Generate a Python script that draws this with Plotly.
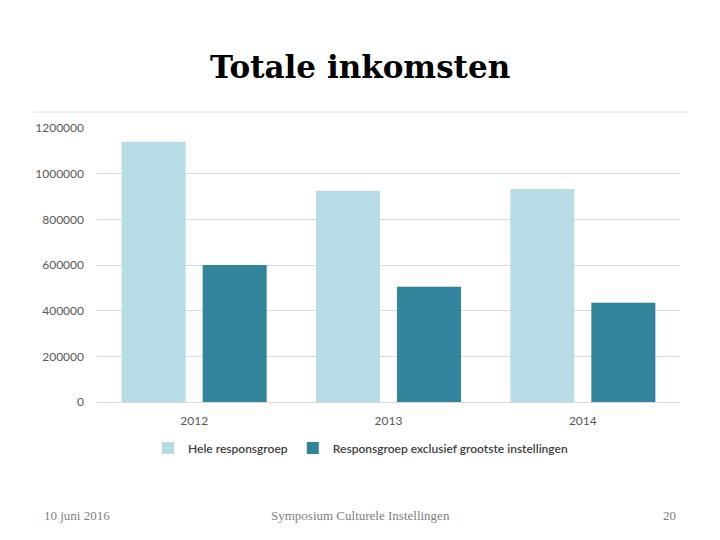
import plotly.graph_objects as go

years = ["2012", "2013", "2014"]
hele = [1140000, 925000, 933000]
excl = [600000, 505000, 435000]
series_names = ["Hele responsgroep", "Responsgroep exclusief grootste instellingen"]
colors = ["#b7dce6", "#31849b"]
y_ticks = [0, 200000, 400000, 600000, 800000, 1000000, 1200000]

fig = go.Figure()
fig.add_trace(go.Bar(x=years, y=hele, name=series_names[0], marker_color=colors[0], marker_line_width=0))
fig.add_trace(go.Bar(x=years, y=excl, name=series_names[1], marker_color=colors[1], marker_line_width=0))

fig.update_layout(
    width=720, height=540,
    margin=dict(l=89, r=48, t=120, b=146),
    paper_bgcolor="white", plot_bgcolor="white",
    barmode="group", bargap=0.166, bargroupgap=0.21,
    showlegend=True,
    legend=dict(orientation="h", x=0.452, xanchor="center", y=-0.168, yanchor="middle",
                font=dict(family="Lato", size=12, color="#404040", weight=600),
                traceorder="normal"),
    xaxis=dict(showgrid=False, showline=True, linecolor="#d9d9d9", linewidth=1,
               ticks="", ticklabelstandoff=8,
               tickfont=dict(family="Lato", size=12, color="#595959")),
    yaxis=dict(range=[0, 1200000], tickvals=y_ticks, ticktext=[str(v) for v in y_ticks],
               showgrid=True, gridcolor="#d9d9d9", gridwidth=1, zeroline=False,
               showline=False, ticks="", ticklabelstandoff=12,
               tickfont=dict(family="Lato", size=12, color="#595959")),
)

fig.add_annotation(text="<b>Totale inkomsten</b>", xref="paper", yref="paper",
                   x=(360 - 97) / 583, y=(402 - 67) / 274, xanchor="center", yanchor="middle",
                   showarrow=False, font=dict(family="DejaVu Serif", size=31, color="black"))

fig.add_shape(type="line", xref="paper", yref="paper",
              x0=(33 - 97) / 583, x1=(688 - 97) / 583,
              y0=(402 - 112) / 274, y1=(402 - 112) / 274,
              line=dict(color="#e0e0e0", width=1))

footer_y = (402 - 515) / 274
fig.add_annotation(text="10 juni 2016", xref="paper", yref="paper", x=(42 - 97) / 583, y=footer_y,
                   xanchor="left", yanchor="middle", showarrow=False,
                   font=dict(family="Liberation Serif", size=13, color="#7f7f7f"))
fig.add_annotation(text="Symposium Culturele Instellingen", xref="paper", yref="paper",
                   x=(360 - 97) / 583, y=footer_y, xanchor="center", yanchor="middle", showarrow=False,
                   font=dict(family="Liberation Serif", size=13, color="#7f7f7f"))
fig.add_annotation(text="20", xref="paper", yref="paper", x=(678 - 97) / 583, y=footer_y,
                   xanchor="right", yanchor="middle", showarrow=False,
                   font=dict(family="Liberation Serif", size=13, color="#7f7f7f"))

fig.write_html("out.html")
